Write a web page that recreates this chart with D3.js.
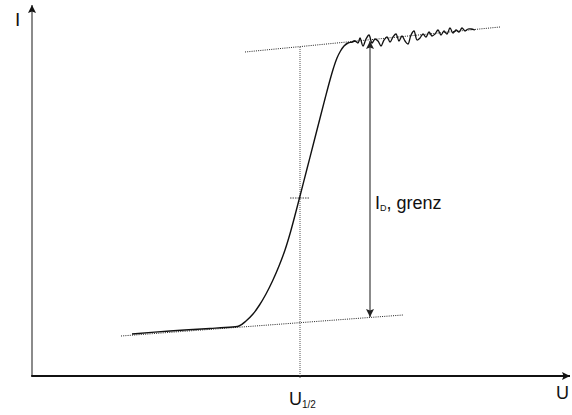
<!DOCTYPE html>
<html><head><meta charset="utf-8">
<script src="https://cdn.jsdelivr.net/npm/d3@7"></script>
<style>body{margin:0;background:#fff}svg{display:block}text{font-family:"Liberation Sans",Arial,sans-serif}</style>
</head><body>
<svg id="c" width="572" height="415"></svg>
<script>
// Polarographic wave, arbitrary units (U, I)
const waveU = [100,138,178,193,207,214,221,227.5,234,240.5,247,253,258.5,267.5,274.7,282.4,288.3,293.2,298,301.5,305,308.5,312,316,320];
const waveI = [42,45,47.5,48.5,50,55,62,71,82,95,110,126,144,178,206,236,259,278,296,308,318,325,330,333,334];
const noiseU = [323,326,328,331,334,337,340,343,346,349,352,355,358,361,364,367,370,373,376,379,382,385,388,391,394,397,400,403,406,409,412,415,418,421,424,427,430,433,436,439,443];
const noiseI = [335,333,338,330,337,341,333,337,335,330,336,339,334,339,342,335,340,335,332,341,345,336,338,342,339,344,340,342,346,341,345,342,348,343,346,344,348,345,347,347,346];
const upperTangentU = [213,468], upperTangentI = [324,349];
const lowerTangentU = [89,371],  lowerTangentI = [40,61];
const halfWaveU = 268, halfWaveI = 178;
const halfWaveSpanI = [-2,330];
const limitArrowU = 338, limitArrowI = [59,335];
const axisLabels = {x:"U", y:"I"};

const svg = d3.select("#c");
const x = d3.scaleLinear().domain([0,538]).range([32,570]);
const y = d3.scaleLinear().domain([0,371]).range([376,5]);

const defs = svg.append("defs");
function marker(id, color){
  defs.append("marker").attr("id",id).attr("viewBox","0 0 10 10").attr("refX",10).attr("refY",5)
    .attr("markerWidth",8).attr("markerHeight",8).attr("markerUnits","userSpaceOnUse").attr("orient","auto-start-reverse")
    .append("path").attr("d","M0,0L10,5L0,10L2,5Z").attr("fill",color);
}
marker("ah","#111");
marker("ahs","#222");

// axes
svg.append("line").attr("x1",x(0)).attr("y1",y(0)).attr("x2",x(0)).attr("y2",y(371))
  .attr("stroke","#6e6e6e").attr("stroke-width",1.6).attr("marker-end","url(#ah)");
svg.append("line").attr("x1",x(0)-0.8).attr("y1",y(0)).attr("x2",x(538)).attr("y2",y(0))
  .attr("stroke","#111").attr("stroke-width",1.8).attr("marker-end","url(#ah)");

// tangents
const dotted = {stroke:"#222","stroke-width":1,"stroke-dasharray":"1,1.2"};
function dline(u,i,st){
  const l = svg.append("line").attr("x1",x(u[0])).attr("y1",y(i[0])).attr("x2",x(u[1])).attr("y2",y(i[1]));
  Object.entries(st).forEach(([k,v])=>l.attr(k,v));
}
dline(upperTangentU, upperTangentI, dotted);
dline(lowerTangentU, lowerTangentI, dotted);
dline([halfWaveU,halfWaveU], halfWaveSpanI, {stroke:"#555","stroke-width":1,"stroke-dasharray":"1,1"});
dline([halfWaveU-10,halfWaveU+10],[halfWaveI,halfWaveI], {stroke:"#444","stroke-width":1,"stroke-dasharray":"1.5,1"});

// wave
const pts = waveU.map((u,k)=>[u,waveI[k]]);
const npts = noiseU.map((u,k)=>[u,noiseI[k]]);
const smooth = d3.line().x(d=>x(d[0])).y(d=>y(d[1])).curve(d3.curveCatmullRom.alpha(0.5));
svg.append("path").attr("d",smooth(pts.concat([npts[0]])))
  .attr("fill","none").attr("stroke","#111").attr("stroke-width",1.4);
svg.append("path").attr("d",smooth([pts[pts.length-1]].concat(npts)))
  .attr("fill","none").attr("stroke","#111").attr("stroke-width",1.3).attr("stroke-linejoin","round");

// limiting current arrow
svg.append("line").attr("x1",x(limitArrowU)).attr("y1",y(limitArrowI[0])).attr("x2",x(limitArrowU)).attr("y2",y(limitArrowI[1]))
  .attr("stroke","#6e6e6e").attr("stroke-width",1.6)
  .attr("marker-start","url(#ahs)").attr("marker-end","url(#ahs)");

// labels
svg.append("text").attr("x",15).attr("y",26).attr("font-size",19).attr("fill","#111").text(axisLabels.y);
svg.append("text").attr("x",556).attr("y",399).attr("font-size",18).attr("fill","#111").text(axisLabels.x);
const t1 = svg.append("text").attr("x",289).attr("y",405).attr("font-size",18).attr("fill","#111");
t1.append("tspan").text("U");
t1.append("tspan").attr("font-size",10).attr("dy",3).text("1/2");
const t2 = svg.append("text").attr("x",375).attr("y",209).attr("font-size",18).attr("fill","#111");
t2.append("tspan").text("I");
t2.append("tspan").attr("font-size",9).attr("dy",2).text("D");
t2.append("tspan").attr("dy",-2).text(", grenz");
</script>
</body></html>
